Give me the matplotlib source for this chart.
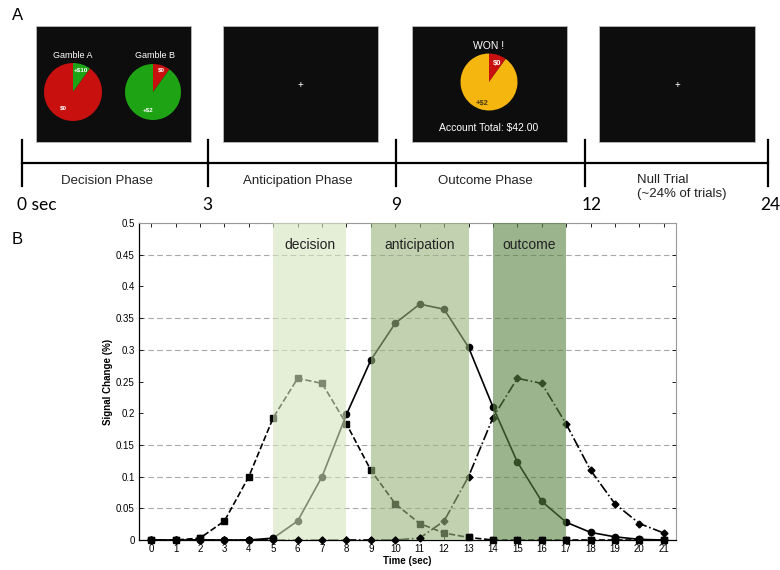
import numpy as np
import matplotlib
matplotlib.use("Agg")
import matplotlib.pyplot as plt
from matplotlib.patches import Rectangle
from matplotlib.ticker import FuncFormatter

plt.rcParams['font.family'] = ['Liberation Sans', 'DejaVu Sans']

# ---- data ----
time_sec = list(range(22))
decision_resp = [0, 0, 0.003, 0.03, 0.1, 0.193, 0.255, 0.247, 0.183, 0.11, 0.057,
                 0.026, 0.011, 0.004, 0, 0, 0, 0, 0, 0, 0, 0]
anticip_resp = [0, 0, 0, 0, 0, 0.003, 0.03, 0.1, 0.198, 0.284, 0.342,
                0.372, 0.364, 0.304, 0.21, 0.123, 0.061, 0.028, 0.012, 0.005, 0.001, 0]
outcome_resp = [0, 0, 0, 0, 0, 0, 0, 0, 0, 0, 0,
                0.003, 0.03, 0.1, 0.193, 0.255, 0.247, 0.183, 0.11, 0.057, 0.026, 0.011]

phase_names = ["decision", "anticipation", "outcome"]
phase_start = [5, 9, 14]
phase_end = [8, 13, 17]
phase_colors = ["#d5e4bb", "#9ab47e", "#5a8242"]

grid_levels = [0.05, 0.1, 0.15, 0.3, 0.35, 0.45, 0.5]

timeline_labels = ["0 sec", "3", "9", "12", "24"]
timeline_phases = ["Decision Phase", "Anticipation Phase", "Outcome Phase",
                   "Null Trial\n(~24% of trials)"]

gamble_a = [0.1, 0.9]   # +$10, $0
gamble_b = [0.1, 0.9]   # $0, +$2
outcome_pie = [0.1, 0.9]  # $0, +$2

RED = "#c8100f"
GREEN = "#1ea314"
YELLOW = "#f5b70f"

W, H = 780, 570
fig = plt.figure(figsize=(W / 100, H / 100), dpi=100)

# ---- panel A, drawn in pixel coordinates ----
ax0 = fig.add_axes([0, 0, 1, 1])
ax0.set_xlim(0, W)
ax0.set_ylim(H, 0)
ax0.axis("off")

screens = [(36, 26, 155, 116), (223, 26, 155, 116), (412, 26, 155, 116), (599, 26, 156, 116)]
for sx, sy, sw, sh in screens:
    ax0.add_patch(Rectangle((sx, sy), sw, sh, facecolor="#0d0d0d",
                            edgecolor="#bbbbbb", lw=0.6))

# crosses
ax0.text(300, 85, "+", color="white", fontsize=7, ha="center", va="center")
ax0.text(677, 85, "+", color="white", fontsize=7, ha="center", va="center")

# screen texts
ax0.text(73, 55, "Gamble A", color="white", fontsize=6.5, ha="center", va="center")
ax0.text(155, 55, "Gamble B", color="white", fontsize=6.5, ha="center", va="center")
ax0.text(489, 46, "WON !", color="white", fontsize=7.5, ha="center", va="center")
ax0.text(489, 128, "Account Total: $42.00", color="white", fontsize=7.5,
         ha="center", va="center")


def add_pie(cx, cy, r, fracs, colors, labels, fs=4.5):
    pa = fig.add_axes([(cx - r) / W, 1 - (cy + r) / H, 2 * r / W, 2 * r / H])
    pa.pie(fracs, colors=colors, startangle=90, counterclock=False,
           wedgeprops=dict(linewidth=0))
    pa.set_xlim(-1, 1)
    pa.set_ylim(-1, 1)
    pa.set_aspect("auto")
    pa.axis("off")
    # slice labels, positioned in pixels
    for (lx, ly, s, c) in labels:
        pa.text(lx, ly, s, color=c, fontsize=fs, fontweight="bold",
                ha="center", va="center", transform=ax0.transData)
    return pa


add_pie(73, 92, 29, gamble_a, [GREEN, RED],
        [(81, 70, "+$10", "white"), (63, 108, "$0", "white")])
add_pie(153, 92, 28, gamble_b, [RED, GREEN],
        [(161, 70, "$0", "white"), (148, 110, "+$2", "white")])
add_pie(489, 82, 28.5, outcome_pie, [RED, YELLOW],
        [(497, 63, "$0", "white"), (482, 103, "+$2", "#4a3a10")], fs=5.5)

# timeline
tick_x = [22, 208, 396, 585, 768]
ax0.plot([tick_x[0], tick_x[-1]], [163, 163], color="black", lw=1.6)
for tx in tick_x:
    ax0.plot([tx, tx], [140, 186], color="black", lw=1.6)

label_x = [17, 207, 396, 592, 770]
for i, lab in enumerate(timeline_labels):
    ax0.text(label_x[i], 205, lab, fontsize=12.5, family=["Lato", "DejaVu Sans"],
             ha="left" if i == 0 else "center", va="center")

phase_x = [107, 298, 485]
for i in range(3):
    ax0.text(phase_x[i], 181, timeline_phases[i], fontsize=9.5, color="#222222",
             ha="center", va="center")
ax0.text(637, 187, timeline_phases[3], fontsize=9.5, color="#222222",
         ha="left", va="center", linespacing=1.15)

ax0.text(12, 16, "A", fontsize=12, ha="left", va="center")
ax0.text(12, 240, "B", fontsize=12, ha="left", va="center")

# ---- panel B ----
ax = fig.add_axes([139 / W, 30 / H, 537 / W, 317 / H])
ax.set_zorder(5)

for lev in grid_levels:
    ax.axhline(lev, color="#a8a8a8", lw=0.8, ls=(0, (5, 3)), zorder=0)

series = [(decision_resp, "--", "s", 4.5),
          (anticip_resp, "-", "o", 4.5),
          (outcome_resp, "-.", "D", 3.5)]
for vals, ls, mk, ms in series:
    ax.plot(time_sec, vals, color="black", ls=ls, lw=1.2,
            marker=mk, ms=ms, zorder=2)

for i in range(3):
    ax.axvspan(phase_start[i], phase_end[i], color=phase_colors[i], alpha=0.6,
               lw=0, zorder=3)
    ax.text((phase_start[i] + phase_end[i]) / 2, 0.465, phase_names[i],
            fontsize=10, ha="center", va="center", color="#222222", zorder=4)

# baseline markers stay dark on top of the shading
for vals, ls, mk, ms in series:
    t0 = [t for t, v in zip(time_sec, vals) if v < 0.005]
    v0 = [v for v in vals if v < 0.005]
    ax.plot(t0, v0, ls="none", color="black", marker=mk, ms=ms, zorder=4,
            clip_on=False)

ax.set_xlim(-0.5, 21.5)
ax.set_ylim(0, 0.5)
ax.set_xticks(time_sec)
ax.set_yticks(np.arange(0, 0.501, 0.05))
ax.yaxis.set_major_formatter(FuncFormatter(lambda v, p: "%g" % round(v, 2)))
ax.tick_params(direction="in", length=3, labelsize=7, top=True, right=True,
               width=0.6, pad=3)
for s in ["top", "right"]:
    ax.spines[s].set_color("#999999")
for s in ["left", "bottom"]:
    ax.spines[s].set_linewidth(0.9)

ax.set_xlabel("Time (sec)", fontsize=7, fontweight="bold", labelpad=1)
ax.set_ylabel("Signal Change (%)", fontsize=7, fontweight="bold", labelpad=2)

fig.savefig("out.png", dpi=100)
